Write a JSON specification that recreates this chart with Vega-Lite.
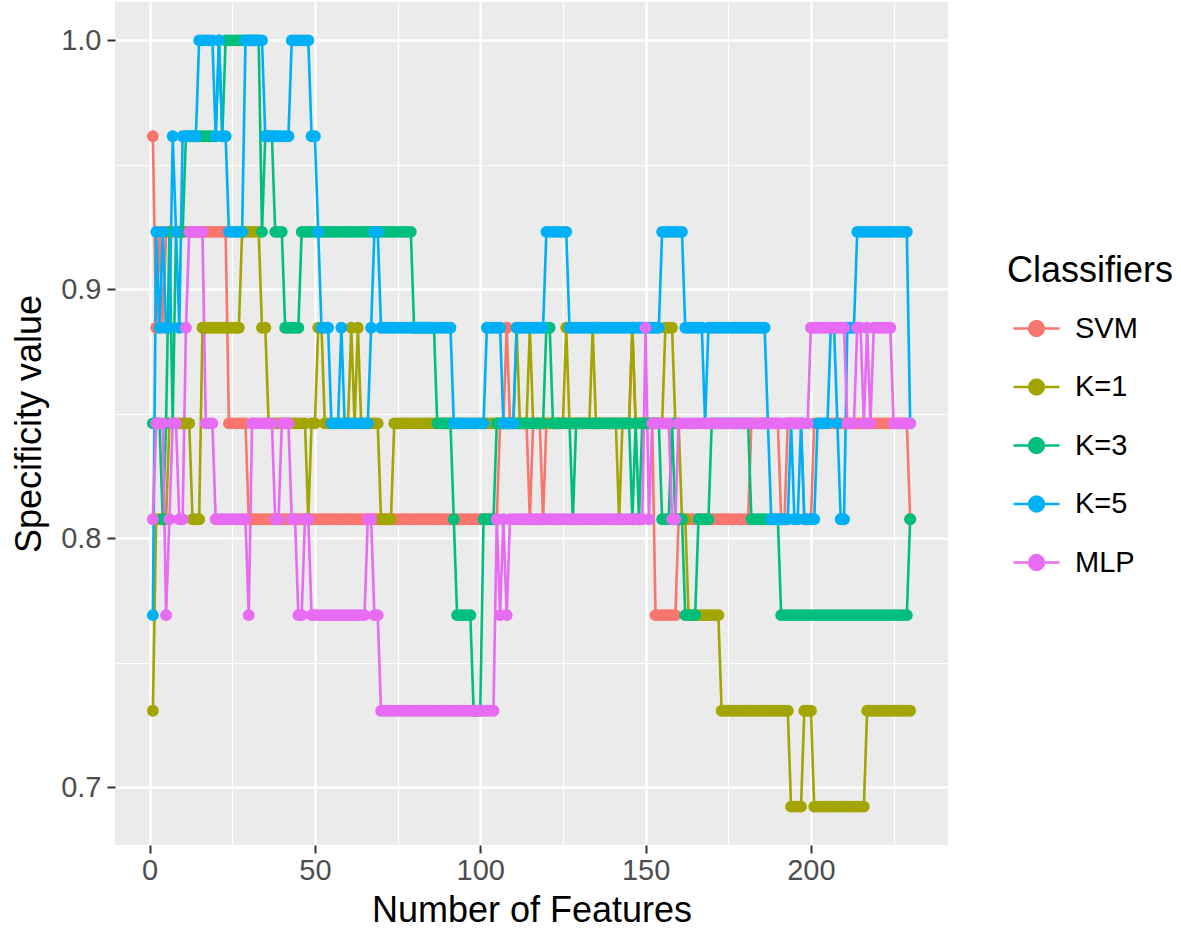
{
"$schema":"https://vega.github.io/schema/vega-lite/v6.json",
"autosize":{"type":"none"},
"width":833,"height":843,
"padding":{"left":115,"top":2,"right":233,"bottom":90},
"background":"white",
"config":{"view":{"fill":"#EBEBEB","stroke":null},"font":"Liberation Sans","range":{"category":["#F8766D","#A3A500","#00BF7D","#00B0F6","#E76BF3"]},
"legend":{"orient":"none","legendX":892,"legendY":252,"padding":0,"titleFontSize":36,"titleFontWeight":"normal","titleColor":"black","titlePadding":14,"labelFontSize":29,"labelColor":"black","labelOffset":14,"symbolOffset":5,"rowPadding":18.5}},
"datasets":{
"svm":[{"x":1,"y":0.9615},{"x":2,"y":0.8846},{"x":3,"y":0.9231},{"x":4,"y":0.8846},{"x":5,"y":0.9231},{"x":6,"y":0.9231},{"x":7,"y":0.9231},{"x":8,"y":0.9231},{"x":9,"y":0.9231},{"x":10,"y":0.9231},{"x":11,"y":0.9231},{"x":12,"y":0.9231},{"x":13,"y":0.9231},{"x":14,"y":0.9231},{"x":15,"y":0.9231},{"x":16,"y":0.9231},{"x":17,"y":0.9231},{"x":18,"y":0.9231},{"x":19,"y":0.9231},{"x":20,"y":0.9231},{"x":21,"y":0.9231},{"x":22,"y":0.9231},{"x":23,"y":0.9231},{"x":24,"y":0.8462},{"x":25,"y":0.8462},{"x":26,"y":0.8462},{"x":27,"y":0.8462},{"x":28,"y":0.8462},{"x":29,"y":0.8462},{"x":30,"y":0.8077},{"x":31,"y":0.8077},{"x":32,"y":0.8077},{"x":33,"y":0.8077},{"x":34,"y":0.8077},{"x":35,"y":0.8077},{"x":36,"y":0.8077},{"x":37,"y":0.8077},{"x":38,"y":0.8077},{"x":39,"y":0.8077},{"x":40,"y":0.8077},{"x":41,"y":0.8077},{"x":42,"y":0.8077},{"x":43,"y":0.8077},{"x":44,"y":0.8077},{"x":45,"y":0.8077},{"x":46,"y":0.8077},{"x":47,"y":0.8077},{"x":48,"y":0.8077},{"x":49,"y":0.8077},{"x":50,"y":0.8077},{"x":51,"y":0.8077},{"x":52,"y":0.8077},{"x":53,"y":0.8077},{"x":54,"y":0.8077},{"x":55,"y":0.8077},{"x":56,"y":0.8077},{"x":57,"y":0.8077},{"x":58,"y":0.8077},{"x":59,"y":0.8077},{"x":60,"y":0.8077},{"x":61,"y":0.8077},{"x":62,"y":0.8077},{"x":63,"y":0.8077},{"x":64,"y":0.8077},{"x":65,"y":0.8077},{"x":66,"y":0.8077},{"x":67,"y":0.8077},{"x":68,"y":0.8077},{"x":69,"y":0.8077},{"x":70,"y":0.8077},{"x":71,"y":0.8077},{"x":72,"y":0.8077},{"x":73,"y":0.8077},{"x":74,"y":0.8077},{"x":75,"y":0.8077},{"x":76,"y":0.8077},{"x":77,"y":0.8077},{"x":78,"y":0.8077},{"x":79,"y":0.8077},{"x":80,"y":0.8077},{"x":81,"y":0.8077},{"x":82,"y":0.8077},{"x":83,"y":0.8077},{"x":84,"y":0.8077},{"x":85,"y":0.8077},{"x":86,"y":0.8077},{"x":87,"y":0.8077},{"x":88,"y":0.8077},{"x":89,"y":0.8077},{"x":90,"y":0.8077},{"x":91,"y":0.8077},{"x":92,"y":0.8077},{"x":93,"y":0.8077},{"x":94,"y":0.8077},{"x":95,"y":0.8077},{"x":96,"y":0.8077},{"x":97,"y":0.8077},{"x":98,"y":0.8077},{"x":99,"y":0.8077},{"x":100,"y":0.8077},{"x":101,"y":0.8077},{"x":102,"y":0.8077},{"x":103,"y":0.8077},{"x":104,"y":0.8077},{"x":105,"y":0.8077},{"x":106,"y":0.8462},{"x":107,"y":0.8462},{"x":108,"y":0.8846},{"x":109,"y":0.8462},{"x":110,"y":0.8462},{"x":111,"y":0.8462},{"x":112,"y":0.8462},{"x":113,"y":0.8462},{"x":114,"y":0.8462},{"x":115,"y":0.8077},{"x":116,"y":0.8462},{"x":117,"y":0.8462},{"x":118,"y":0.8462},{"x":119,"y":0.8077},{"x":120,"y":0.8462},{"x":121,"y":0.8462},{"x":122,"y":0.8462},{"x":123,"y":0.8462},{"x":124,"y":0.8462},{"x":125,"y":0.8462},{"x":126,"y":0.8462},{"x":127,"y":0.8462},{"x":128,"y":0.8462},{"x":129,"y":0.8462},{"x":130,"y":0.8462},{"x":131,"y":0.8462},{"x":132,"y":0.8462},{"x":133,"y":0.8462},{"x":134,"y":0.8462},{"x":135,"y":0.8462},{"x":136,"y":0.8462},{"x":137,"y":0.8462},{"x":138,"y":0.8462},{"x":139,"y":0.8462},{"x":140,"y":0.8462},{"x":141,"y":0.8462},{"x":142,"y":0.8462},{"x":143,"y":0.8462},{"x":144,"y":0.8462},{"x":145,"y":0.8462},{"x":146,"y":0.8846},{"x":147,"y":0.8462},{"x":148,"y":0.8462},{"x":149,"y":0.8462},{"x":150,"y":0.8462},{"x":151,"y":0.8462},{"x":152,"y":0.8462},{"x":153,"y":0.7692},{"x":154,"y":0.7692},{"x":155,"y":0.7692},{"x":156,"y":0.7692},{"x":157,"y":0.7692},{"x":158,"y":0.7692},{"x":159,"y":0.7692},{"x":160,"y":0.8077},{"x":161,"y":0.8077},{"x":162,"y":0.8077},{"x":163,"y":0.8077},{"x":164,"y":0.8077},{"x":165,"y":0.8077},{"x":166,"y":0.8077},{"x":167,"y":0.8077},{"x":168,"y":0.8077},{"x":169,"y":0.8077},{"x":170,"y":0.8077},{"x":171,"y":0.8077},{"x":172,"y":0.8077},{"x":173,"y":0.8077},{"x":174,"y":0.8077},{"x":175,"y":0.8077},{"x":176,"y":0.8077},{"x":177,"y":0.8077},{"x":178,"y":0.8077},{"x":179,"y":0.8077},{"x":180,"y":0.8077},{"x":181,"y":0.8077},{"x":182,"y":0.8462},{"x":183,"y":0.8462},{"x":184,"y":0.8462},{"x":185,"y":0.8462},{"x":186,"y":0.8462},{"x":187,"y":0.8462},{"x":188,"y":0.8462},{"x":189,"y":0.8462},{"x":190,"y":0.8462},{"x":191,"y":0.8077},{"x":192,"y":0.8077},{"x":193,"y":0.8462},{"x":194,"y":0.8462},{"x":195,"y":0.8462},{"x":196,"y":0.8462},{"x":197,"y":0.8462},{"x":198,"y":0.8077},{"x":199,"y":0.8077},{"x":200,"y":0.8077},{"x":201,"y":0.8462},{"x":202,"y":0.8462},{"x":203,"y":0.8462},{"x":204,"y":0.8462},{"x":205,"y":0.8462},{"x":206,"y":0.8462},{"x":207,"y":0.8462},{"x":208,"y":0.8462},{"x":209,"y":0.8462},{"x":210,"y":0.8462},{"x":211,"y":0.8462},{"x":212,"y":0.8462},{"x":213,"y":0.8462},{"x":214,"y":0.8462},{"x":215,"y":0.8462},{"x":216,"y":0.8462},{"x":217,"y":0.8462},{"x":218,"y":0.8462},{"x":219,"y":0.8462},{"x":220,"y":0.8462},{"x":221,"y":0.8462},{"x":222,"y":0.8462},{"x":223,"y":0.8462},{"x":224,"y":0.8462},{"x":225,"y":0.8462},{"x":226,"y":0.8462},{"x":227,"y":0.8462},{"x":228,"y":0.8462},{"x":229,"y":0.8462},{"x":230,"y":0.8077}],
"k1":[{"x":1,"y":0.7308},{"x":2,"y":0.8077},{"x":3,"y":0.8077},{"x":4,"y":0.8077},{"x":5,"y":0.8077},{"x":6,"y":0.8462},{"x":7,"y":0.8462},{"x":8,"y":0.8462},{"x":9,"y":0.8462},{"x":10,"y":0.8462},{"x":11,"y":0.8462},{"x":12,"y":0.8462},{"x":13,"y":0.8077},{"x":14,"y":0.8077},{"x":15,"y":0.8077},{"x":16,"y":0.8846},{"x":17,"y":0.8846},{"x":18,"y":0.8846},{"x":19,"y":0.8846},{"x":20,"y":0.8846},{"x":21,"y":0.8846},{"x":22,"y":0.8846},{"x":23,"y":0.8846},{"x":24,"y":0.8846},{"x":25,"y":0.8846},{"x":26,"y":0.8846},{"x":27,"y":0.8846},{"x":28,"y":0.9231},{"x":29,"y":0.9231},{"x":30,"y":0.9231},{"x":31,"y":0.9231},{"x":32,"y":0.9231},{"x":33,"y":0.9231},{"x":34,"y":0.8846},{"x":35,"y":0.8846},{"x":36,"y":0.8462},{"x":37,"y":0.8462},{"x":38,"y":0.8462},{"x":39,"y":0.8462},{"x":40,"y":0.8462},{"x":41,"y":0.8462},{"x":42,"y":0.8462},{"x":43,"y":0.8462},{"x":44,"y":0.8462},{"x":45,"y":0.8462},{"x":46,"y":0.8462},{"x":47,"y":0.8462},{"x":48,"y":0.8077},{"x":49,"y":0.8462},{"x":50,"y":0.8462},{"x":51,"y":0.8846},{"x":52,"y":0.8846},{"x":53,"y":0.8462},{"x":54,"y":0.8462},{"x":55,"y":0.8462},{"x":56,"y":0.8462},{"x":57,"y":0.8462},{"x":58,"y":0.8462},{"x":59,"y":0.8462},{"x":60,"y":0.8462},{"x":61,"y":0.8846},{"x":62,"y":0.8462},{"x":63,"y":0.8846},{"x":64,"y":0.8462},{"x":65,"y":0.8462},{"x":66,"y":0.8462},{"x":67,"y":0.8462},{"x":68,"y":0.8462},{"x":69,"y":0.8462},{"x":70,"y":0.8077},{"x":71,"y":0.8077},{"x":72,"y":0.8077},{"x":73,"y":0.8077},{"x":74,"y":0.8462},{"x":75,"y":0.8462},{"x":76,"y":0.8462},{"x":77,"y":0.8462},{"x":78,"y":0.8462},{"x":79,"y":0.8462},{"x":80,"y":0.8462},{"x":81,"y":0.8462},{"x":82,"y":0.8462},{"x":83,"y":0.8462},{"x":84,"y":0.8462},{"x":85,"y":0.8462},{"x":86,"y":0.8462},{"x":87,"y":0.8462},{"x":88,"y":0.8462},{"x":89,"y":0.8462},{"x":90,"y":0.8462},{"x":91,"y":0.8462},{"x":92,"y":0.8462},{"x":93,"y":0.8462},{"x":94,"y":0.8462},{"x":95,"y":0.8462},{"x":96,"y":0.8462},{"x":97,"y":0.8462},{"x":98,"y":0.8462},{"x":99,"y":0.8462},{"x":100,"y":0.8462},{"x":101,"y":0.8462},{"x":102,"y":0.8462},{"x":103,"y":0.8462},{"x":104,"y":0.8462},{"x":105,"y":0.8462},{"x":106,"y":0.8462},{"x":107,"y":0.8462},{"x":108,"y":0.8462},{"x":109,"y":0.8462},{"x":110,"y":0.8462},{"x":111,"y":0.8846},{"x":112,"y":0.8462},{"x":113,"y":0.8462},{"x":114,"y":0.8462},{"x":115,"y":0.8846},{"x":116,"y":0.8462},{"x":117,"y":0.8462},{"x":118,"y":0.8462},{"x":119,"y":0.8462},{"x":120,"y":0.8462},{"x":121,"y":0.8462},{"x":122,"y":0.8462},{"x":123,"y":0.8462},{"x":124,"y":0.8462},{"x":125,"y":0.8462},{"x":126,"y":0.8846},{"x":127,"y":0.8462},{"x":128,"y":0.8462},{"x":129,"y":0.8462},{"x":130,"y":0.8462},{"x":131,"y":0.8462},{"x":132,"y":0.8462},{"x":133,"y":0.8462},{"x":134,"y":0.8846},{"x":135,"y":0.8462},{"x":136,"y":0.8462},{"x":137,"y":0.8462},{"x":138,"y":0.8462},{"x":139,"y":0.8462},{"x":140,"y":0.8462},{"x":141,"y":0.8462},{"x":142,"y":0.8077},{"x":143,"y":0.8462},{"x":144,"y":0.8462},{"x":145,"y":0.8462},{"x":146,"y":0.8846},{"x":147,"y":0.8462},{"x":148,"y":0.8462},{"x":149,"y":0.8462},{"x":150,"y":0.8462},{"x":151,"y":0.8462},{"x":152,"y":0.8462},{"x":153,"y":0.8462},{"x":154,"y":0.8462},{"x":155,"y":0.8462},{"x":156,"y":0.8846},{"x":157,"y":0.8846},{"x":158,"y":0.8846},{"x":159,"y":0.8462},{"x":160,"y":0.8462},{"x":161,"y":0.8077},{"x":162,"y":0.8077},{"x":163,"y":0.7692},{"x":164,"y":0.7692},{"x":165,"y":0.7692},{"x":166,"y":0.7692},{"x":167,"y":0.7692},{"x":168,"y":0.7692},{"x":169,"y":0.7692},{"x":170,"y":0.7692},{"x":171,"y":0.7692},{"x":172,"y":0.7692},{"x":173,"y":0.7308},{"x":174,"y":0.7308},{"x":175,"y":0.7308},{"x":176,"y":0.7308},{"x":177,"y":0.7308},{"x":178,"y":0.7308},{"x":179,"y":0.7308},{"x":180,"y":0.7308},{"x":181,"y":0.7308},{"x":182,"y":0.7308},{"x":183,"y":0.7308},{"x":184,"y":0.7308},{"x":185,"y":0.7308},{"x":186,"y":0.7308},{"x":187,"y":0.7308},{"x":188,"y":0.7308},{"x":189,"y":0.7308},{"x":190,"y":0.7308},{"x":191,"y":0.7308},{"x":192,"y":0.7308},{"x":193,"y":0.7308},{"x":194,"y":0.6923},{"x":195,"y":0.6923},{"x":196,"y":0.6923},{"x":197,"y":0.6923},{"x":198,"y":0.7308},{"x":199,"y":0.7308},{"x":200,"y":0.7308},{"x":201,"y":0.6923},{"x":202,"y":0.6923},{"x":203,"y":0.6923},{"x":204,"y":0.6923},{"x":205,"y":0.6923},{"x":206,"y":0.6923},{"x":207,"y":0.6923},{"x":208,"y":0.6923},{"x":209,"y":0.6923},{"x":210,"y":0.6923},{"x":211,"y":0.6923},{"x":212,"y":0.6923},{"x":213,"y":0.6923},{"x":214,"y":0.6923},{"x":215,"y":0.6923},{"x":216,"y":0.6923},{"x":217,"y":0.7308},{"x":218,"y":0.7308},{"x":219,"y":0.7308},{"x":220,"y":0.7308},{"x":221,"y":0.7308},{"x":222,"y":0.7308},{"x":223,"y":0.7308},{"x":224,"y":0.7308},{"x":225,"y":0.7308},{"x":226,"y":0.7308},{"x":227,"y":0.7308},{"x":228,"y":0.7308},{"x":229,"y":0.7308},{"x":230,"y":0.7308}],
"k3":[{"x":1,"y":0.8462},{"x":2,"y":0.8462},{"x":3,"y":0.8462},{"x":4,"y":0.8077},{"x":5,"y":0.8462},{"x":6,"y":0.9231},{"x":7,"y":0.8462},{"x":8,"y":0.9231},{"x":9,"y":0.9231},{"x":10,"y":0.9231},{"x":11,"y":0.9615},{"x":12,"y":0.9615},{"x":13,"y":0.9615},{"x":14,"y":0.9615},{"x":15,"y":0.9615},{"x":16,"y":0.9615},{"x":17,"y":0.9615},{"x":18,"y":0.9615},{"x":19,"y":0.9615},{"x":20,"y":0.9615},{"x":21,"y":1},{"x":22,"y":0.9615},{"x":23,"y":1},{"x":24,"y":1},{"x":25,"y":1},{"x":26,"y":1},{"x":27,"y":1},{"x":28,"y":1},{"x":29,"y":1},{"x":30,"y":1},{"x":31,"y":1},{"x":32,"y":1},{"x":33,"y":1},{"x":34,"y":0.9231},{"x":35,"y":0.9615},{"x":36,"y":0.9615},{"x":37,"y":0.9615},{"x":38,"y":0.9231},{"x":39,"y":0.9231},{"x":40,"y":0.9231},{"x":41,"y":0.8846},{"x":42,"y":0.8846},{"x":43,"y":0.8846},{"x":44,"y":0.8846},{"x":45,"y":0.8846},{"x":46,"y":0.9231},{"x":47,"y":0.9231},{"x":48,"y":0.9231},{"x":49,"y":0.9231},{"x":50,"y":0.9231},{"x":51,"y":0.9231},{"x":52,"y":0.9231},{"x":53,"y":0.9231},{"x":54,"y":0.9231},{"x":55,"y":0.9231},{"x":56,"y":0.9231},{"x":57,"y":0.9231},{"x":58,"y":0.9231},{"x":59,"y":0.9231},{"x":60,"y":0.9231},{"x":61,"y":0.9231},{"x":62,"y":0.9231},{"x":63,"y":0.9231},{"x":64,"y":0.9231},{"x":65,"y":0.9231},{"x":66,"y":0.9231},{"x":67,"y":0.9231},{"x":68,"y":0.9231},{"x":69,"y":0.9231},{"x":70,"y":0.9231},{"x":71,"y":0.9231},{"x":72,"y":0.9231},{"x":73,"y":0.9231},{"x":74,"y":0.9231},{"x":75,"y":0.9231},{"x":76,"y":0.9231},{"x":77,"y":0.9231},{"x":78,"y":0.9231},{"x":79,"y":0.9231},{"x":80,"y":0.8846},{"x":81,"y":0.8846},{"x":82,"y":0.8846},{"x":83,"y":0.8846},{"x":84,"y":0.8846},{"x":85,"y":0.8846},{"x":86,"y":0.8846},{"x":87,"y":0.8462},{"x":88,"y":0.8462},{"x":89,"y":0.8462},{"x":90,"y":0.8462},{"x":91,"y":0.8462},{"x":92,"y":0.8077},{"x":93,"y":0.7692},{"x":94,"y":0.7692},{"x":95,"y":0.7692},{"x":96,"y":0.7692},{"x":97,"y":0.7692},{"x":98,"y":0.7308},{"x":99,"y":0.7308},{"x":100,"y":0.7308},{"x":101,"y":0.8077},{"x":102,"y":0.8077},{"x":103,"y":0.8077},{"x":104,"y":0.8077},{"x":105,"y":0.8462},{"x":106,"y":0.8462},{"x":107,"y":0.8462},{"x":108,"y":0.8462},{"x":109,"y":0.8462},{"x":110,"y":0.8462},{"x":111,"y":0.8462},{"x":112,"y":0.8462},{"x":113,"y":0.8462},{"x":114,"y":0.8462},{"x":115,"y":0.8462},{"x":116,"y":0.8462},{"x":117,"y":0.8462},{"x":118,"y":0.8462},{"x":119,"y":0.8462},{"x":120,"y":0.8846},{"x":121,"y":0.8846},{"x":122,"y":0.8462},{"x":123,"y":0.8462},{"x":124,"y":0.8462},{"x":125,"y":0.8462},{"x":126,"y":0.8462},{"x":127,"y":0.8462},{"x":128,"y":0.8077},{"x":129,"y":0.8462},{"x":130,"y":0.8462},{"x":131,"y":0.8462},{"x":132,"y":0.8462},{"x":133,"y":0.8462},{"x":134,"y":0.8462},{"x":135,"y":0.8462},{"x":136,"y":0.8462},{"x":137,"y":0.8462},{"x":138,"y":0.8462},{"x":139,"y":0.8462},{"x":140,"y":0.8462},{"x":141,"y":0.8462},{"x":142,"y":0.8462},{"x":143,"y":0.8462},{"x":144,"y":0.8462},{"x":145,"y":0.8462},{"x":146,"y":0.8077},{"x":147,"y":0.8462},{"x":148,"y":0.8077},{"x":149,"y":0.8462},{"x":150,"y":0.8462},{"x":151,"y":0.8462},{"x":152,"y":0.8462},{"x":153,"y":0.8462},{"x":154,"y":0.8462},{"x":155,"y":0.8077},{"x":156,"y":0.8077},{"x":157,"y":0.8077},{"x":158,"y":0.8462},{"x":159,"y":0.8077},{"x":160,"y":0.8077},{"x":161,"y":0.8077},{"x":162,"y":0.7692},{"x":163,"y":0.7692},{"x":164,"y":0.7692},{"x":165,"y":0.7692},{"x":166,"y":0.8077},{"x":167,"y":0.8077},{"x":168,"y":0.8077},{"x":169,"y":0.8077},{"x":170,"y":0.8462},{"x":171,"y":0.8462},{"x":172,"y":0.8462},{"x":173,"y":0.8462},{"x":174,"y":0.8462},{"x":175,"y":0.8462},{"x":176,"y":0.8462},{"x":177,"y":0.8462},{"x":178,"y":0.8462},{"x":179,"y":0.8462},{"x":180,"y":0.8462},{"x":181,"y":0.8462},{"x":182,"y":0.8077},{"x":183,"y":0.8077},{"x":184,"y":0.8077},{"x":185,"y":0.8077},{"x":186,"y":0.8077},{"x":187,"y":0.8077},{"x":188,"y":0.8077},{"x":189,"y":0.8077},{"x":190,"y":0.8077},{"x":191,"y":0.7692},{"x":192,"y":0.7692},{"x":193,"y":0.7692},{"x":194,"y":0.7692},{"x":195,"y":0.7692},{"x":196,"y":0.7692},{"x":197,"y":0.7692},{"x":198,"y":0.7692},{"x":199,"y":0.7692},{"x":200,"y":0.7692},{"x":201,"y":0.7692},{"x":202,"y":0.7692},{"x":203,"y":0.7692},{"x":204,"y":0.7692},{"x":205,"y":0.7692},{"x":206,"y":0.7692},{"x":207,"y":0.7692},{"x":208,"y":0.7692},{"x":209,"y":0.7692},{"x":210,"y":0.7692},{"x":211,"y":0.7692},{"x":212,"y":0.7692},{"x":213,"y":0.7692},{"x":214,"y":0.7692},{"x":215,"y":0.7692},{"x":216,"y":0.7692},{"x":217,"y":0.7692},{"x":218,"y":0.7692},{"x":219,"y":0.7692},{"x":220,"y":0.7692},{"x":221,"y":0.7692},{"x":222,"y":0.7692},{"x":223,"y":0.7692},{"x":224,"y":0.7692},{"x":225,"y":0.7692},{"x":226,"y":0.7692},{"x":227,"y":0.7692},{"x":228,"y":0.7692},{"x":229,"y":0.7692},{"x":230,"y":0.8077}],
"k5":[{"x":1,"y":0.7692},{"x":2,"y":0.9231},{"x":3,"y":0.8846},{"x":4,"y":0.9231},{"x":5,"y":0.8846},{"x":6,"y":0.8846},{"x":7,"y":0.9615},{"x":8,"y":0.9231},{"x":9,"y":0.8846},{"x":10,"y":0.9615},{"x":11,"y":0.9615},{"x":12,"y":0.9615},{"x":13,"y":0.9615},{"x":14,"y":0.9615},{"x":15,"y":1},{"x":16,"y":1},{"x":17,"y":1},{"x":18,"y":1},{"x":19,"y":1},{"x":20,"y":0.9615},{"x":21,"y":1},{"x":22,"y":0.9615},{"x":23,"y":0.9615},{"x":24,"y":0.9231},{"x":25,"y":0.9231},{"x":26,"y":0.9231},{"x":27,"y":0.9231},{"x":28,"y":0.9231},{"x":29,"y":1},{"x":30,"y":1},{"x":31,"y":1},{"x":32,"y":1},{"x":33,"y":1},{"x":34,"y":1},{"x":35,"y":0.9615},{"x":36,"y":0.9615},{"x":37,"y":0.9615},{"x":38,"y":0.9615},{"x":39,"y":0.9615},{"x":40,"y":0.9615},{"x":41,"y":0.9615},{"x":42,"y":0.9615},{"x":43,"y":1},{"x":44,"y":1},{"x":45,"y":1},{"x":46,"y":1},{"x":47,"y":1},{"x":48,"y":1},{"x":49,"y":0.9615},{"x":50,"y":0.9615},{"x":51,"y":0.9231},{"x":52,"y":0.8846},{"x":53,"y":0.8846},{"x":54,"y":0.8846},{"x":55,"y":0.8462},{"x":56,"y":0.8462},{"x":57,"y":0.8462},{"x":58,"y":0.8846},{"x":59,"y":0.8462},{"x":60,"y":0.8462},{"x":61,"y":0.8462},{"x":62,"y":0.8462},{"x":63,"y":0.8462},{"x":64,"y":0.8462},{"x":65,"y":0.8462},{"x":66,"y":0.8462},{"x":67,"y":0.8846},{"x":68,"y":0.9231},{"x":69,"y":0.9231},{"x":70,"y":0.8846},{"x":71,"y":0.8846},{"x":72,"y":0.8846},{"x":73,"y":0.8846},{"x":74,"y":0.8846},{"x":75,"y":0.8846},{"x":76,"y":0.8846},{"x":77,"y":0.8846},{"x":78,"y":0.8846},{"x":79,"y":0.8846},{"x":80,"y":0.8846},{"x":81,"y":0.8846},{"x":82,"y":0.8846},{"x":83,"y":0.8846},{"x":84,"y":0.8846},{"x":85,"y":0.8846},{"x":86,"y":0.8846},{"x":87,"y":0.8846},{"x":88,"y":0.8846},{"x":89,"y":0.8846},{"x":90,"y":0.8846},{"x":91,"y":0.8846},{"x":92,"y":0.8462},{"x":93,"y":0.8462},{"x":94,"y":0.8462},{"x":95,"y":0.8462},{"x":96,"y":0.8462},{"x":97,"y":0.8462},{"x":98,"y":0.8462},{"x":99,"y":0.8462},{"x":100,"y":0.8462},{"x":101,"y":0.8462},{"x":102,"y":0.8846},{"x":103,"y":0.8846},{"x":104,"y":0.8846},{"x":105,"y":0.8846},{"x":106,"y":0.8846},{"x":107,"y":0.8462},{"x":108,"y":0.8462},{"x":109,"y":0.8462},{"x":110,"y":0.8462},{"x":111,"y":0.8846},{"x":112,"y":0.8846},{"x":113,"y":0.8846},{"x":114,"y":0.8846},{"x":115,"y":0.8846},{"x":116,"y":0.8846},{"x":117,"y":0.8846},{"x":118,"y":0.8846},{"x":119,"y":0.8846},{"x":120,"y":0.9231},{"x":121,"y":0.9231},{"x":122,"y":0.9231},{"x":123,"y":0.9231},{"x":124,"y":0.9231},{"x":125,"y":0.9231},{"x":126,"y":0.9231},{"x":127,"y":0.8846},{"x":128,"y":0.8846},{"x":129,"y":0.8846},{"x":130,"y":0.8846},{"x":131,"y":0.8846},{"x":132,"y":0.8846},{"x":133,"y":0.8846},{"x":134,"y":0.8846},{"x":135,"y":0.8846},{"x":136,"y":0.8846},{"x":137,"y":0.8846},{"x":138,"y":0.8846},{"x":139,"y":0.8846},{"x":140,"y":0.8846},{"x":141,"y":0.8846},{"x":142,"y":0.8846},{"x":143,"y":0.8846},{"x":144,"y":0.8846},{"x":145,"y":0.8846},{"x":146,"y":0.8846},{"x":147,"y":0.8846},{"x":148,"y":0.8846},{"x":149,"y":0.8846},{"x":150,"y":0.8846},{"x":151,"y":0.8846},{"x":152,"y":0.8846},{"x":153,"y":0.8846},{"x":154,"y":0.8846},{"x":155,"y":0.9231},{"x":156,"y":0.9231},{"x":157,"y":0.9231},{"x":158,"y":0.9231},{"x":159,"y":0.9231},{"x":160,"y":0.9231},{"x":161,"y":0.9231},{"x":162,"y":0.8846},{"x":163,"y":0.8846},{"x":164,"y":0.8846},{"x":165,"y":0.8846},{"x":166,"y":0.8846},{"x":167,"y":0.8846},{"x":168,"y":0.8462},{"x":169,"y":0.8846},{"x":170,"y":0.8846},{"x":171,"y":0.8846},{"x":172,"y":0.8846},{"x":173,"y":0.8846},{"x":174,"y":0.8846},{"x":175,"y":0.8846},{"x":176,"y":0.8846},{"x":177,"y":0.8846},{"x":178,"y":0.8846},{"x":179,"y":0.8846},{"x":180,"y":0.8846},{"x":181,"y":0.8846},{"x":182,"y":0.8846},{"x":183,"y":0.8846},{"x":184,"y":0.8846},{"x":185,"y":0.8846},{"x":186,"y":0.8846},{"x":187,"y":0.8462},{"x":188,"y":0.8077},{"x":189,"y":0.8077},{"x":190,"y":0.8077},{"x":191,"y":0.8077},{"x":192,"y":0.8077},{"x":193,"y":0.8077},{"x":194,"y":0.8462},{"x":195,"y":0.8077},{"x":196,"y":0.8077},{"x":197,"y":0.8462},{"x":198,"y":0.8077},{"x":199,"y":0.8077},{"x":200,"y":0.8077},{"x":201,"y":0.8077},{"x":202,"y":0.8462},{"x":203,"y":0.8462},{"x":204,"y":0.8462},{"x":205,"y":0.8462},{"x":206,"y":0.8846},{"x":207,"y":0.8846},{"x":208,"y":0.8462},{"x":209,"y":0.8077},{"x":210,"y":0.8077},{"x":211,"y":0.8846},{"x":212,"y":0.8846},{"x":213,"y":0.8846},{"x":214,"y":0.9231},{"x":215,"y":0.9231},{"x":216,"y":0.9231},{"x":217,"y":0.9231},{"x":218,"y":0.9231},{"x":219,"y":0.9231},{"x":220,"y":0.9231},{"x":221,"y":0.9231},{"x":222,"y":0.9231},{"x":223,"y":0.9231},{"x":224,"y":0.9231},{"x":225,"y":0.9231},{"x":226,"y":0.9231},{"x":227,"y":0.9231},{"x":228,"y":0.9231},{"x":229,"y":0.9231},{"x":230,"y":0.8462}],
"mlp":[{"x":1,"y":0.8077},{"x":2,"y":0.8462},{"x":3,"y":0.8462},{"x":4,"y":0.8462},{"x":5,"y":0.7692},{"x":6,"y":0.8077},{"x":7,"y":0.8462},{"x":8,"y":0.8462},{"x":9,"y":0.8077},{"x":10,"y":0.8077},{"x":11,"y":0.8846},{"x":12,"y":0.9231},{"x":13,"y":0.9231},{"x":14,"y":0.9231},{"x":15,"y":0.9231},{"x":16,"y":0.9231},{"x":17,"y":0.8462},{"x":18,"y":0.8462},{"x":19,"y":0.8462},{"x":20,"y":0.8077},{"x":21,"y":0.8077},{"x":22,"y":0.8077},{"x":23,"y":0.8077},{"x":24,"y":0.8077},{"x":25,"y":0.8077},{"x":26,"y":0.8077},{"x":27,"y":0.8077},{"x":28,"y":0.8077},{"x":29,"y":0.8077},{"x":30,"y":0.7692},{"x":31,"y":0.8462},{"x":32,"y":0.8462},{"x":33,"y":0.8462},{"x":34,"y":0.8462},{"x":35,"y":0.8462},{"x":36,"y":0.8462},{"x":37,"y":0.8462},{"x":38,"y":0.8077},{"x":39,"y":0.8077},{"x":40,"y":0.8462},{"x":41,"y":0.8462},{"x":42,"y":0.8462},{"x":43,"y":0.8077},{"x":44,"y":0.8077},{"x":45,"y":0.7692},{"x":46,"y":0.7692},{"x":47,"y":0.8077},{"x":48,"y":0.8077},{"x":49,"y":0.7692},{"x":50,"y":0.7692},{"x":51,"y":0.7692},{"x":52,"y":0.7692},{"x":53,"y":0.7692},{"x":54,"y":0.7692},{"x":55,"y":0.7692},{"x":56,"y":0.7692},{"x":57,"y":0.7692},{"x":58,"y":0.7692},{"x":59,"y":0.7692},{"x":60,"y":0.7692},{"x":61,"y":0.7692},{"x":62,"y":0.7692},{"x":63,"y":0.7692},{"x":64,"y":0.7692},{"x":65,"y":0.7692},{"x":66,"y":0.8077},{"x":67,"y":0.8077},{"x":68,"y":0.7692},{"x":69,"y":0.7692},{"x":70,"y":0.7308},{"x":71,"y":0.7308},{"x":72,"y":0.7308},{"x":73,"y":0.7308},{"x":74,"y":0.7308},{"x":75,"y":0.7308},{"x":76,"y":0.7308},{"x":77,"y":0.7308},{"x":78,"y":0.7308},{"x":79,"y":0.7308},{"x":80,"y":0.7308},{"x":81,"y":0.7308},{"x":82,"y":0.7308},{"x":83,"y":0.7308},{"x":84,"y":0.7308},{"x":85,"y":0.7308},{"x":86,"y":0.7308},{"x":87,"y":0.7308},{"x":88,"y":0.7308},{"x":89,"y":0.7308},{"x":90,"y":0.7308},{"x":91,"y":0.7308},{"x":92,"y":0.7308},{"x":93,"y":0.7308},{"x":94,"y":0.7308},{"x":95,"y":0.7308},{"x":96,"y":0.7308},{"x":97,"y":0.7308},{"x":98,"y":0.7308},{"x":99,"y":0.7308},{"x":100,"y":0.7308},{"x":101,"y":0.7308},{"x":102,"y":0.7308},{"x":103,"y":0.7308},{"x":104,"y":0.7308},{"x":105,"y":0.8077},{"x":106,"y":0.7692},{"x":107,"y":0.8077},{"x":108,"y":0.7692},{"x":109,"y":0.8077},{"x":110,"y":0.8077},{"x":111,"y":0.8077},{"x":112,"y":0.8077},{"x":113,"y":0.8077},{"x":114,"y":0.8077},{"x":115,"y":0.8077},{"x":116,"y":0.8077},{"x":117,"y":0.8077},{"x":118,"y":0.8077},{"x":119,"y":0.8077},{"x":120,"y":0.8077},{"x":121,"y":0.8077},{"x":122,"y":0.8077},{"x":123,"y":0.8077},{"x":124,"y":0.8077},{"x":125,"y":0.8077},{"x":126,"y":0.8077},{"x":127,"y":0.8077},{"x":128,"y":0.8077},{"x":129,"y":0.8077},{"x":130,"y":0.8077},{"x":131,"y":0.8077},{"x":132,"y":0.8077},{"x":133,"y":0.8077},{"x":134,"y":0.8077},{"x":135,"y":0.8077},{"x":136,"y":0.8077},{"x":137,"y":0.8077},{"x":138,"y":0.8077},{"x":139,"y":0.8077},{"x":140,"y":0.8077},{"x":141,"y":0.8077},{"x":142,"y":0.8077},{"x":143,"y":0.8077},{"x":144,"y":0.8077},{"x":145,"y":0.8077},{"x":146,"y":0.8077},{"x":147,"y":0.8077},{"x":148,"y":0.8077},{"x":149,"y":0.8077},{"x":150,"y":0.8846},{"x":151,"y":0.8077},{"x":152,"y":0.8462},{"x":153,"y":0.8462},{"x":154,"y":0.8462},{"x":155,"y":0.8462},{"x":156,"y":0.8462},{"x":157,"y":0.8462},{"x":158,"y":0.8077},{"x":159,"y":0.8077},{"x":160,"y":0.8462},{"x":161,"y":0.8462},{"x":162,"y":0.8462},{"x":163,"y":0.8462},{"x":164,"y":0.8462},{"x":165,"y":0.8462},{"x":166,"y":0.8462},{"x":167,"y":0.8462},{"x":168,"y":0.8462},{"x":169,"y":0.8462},{"x":170,"y":0.8462},{"x":171,"y":0.8462},{"x":172,"y":0.8462},{"x":173,"y":0.8462},{"x":174,"y":0.8462},{"x":175,"y":0.8462},{"x":176,"y":0.8462},{"x":177,"y":0.8462},{"x":178,"y":0.8462},{"x":179,"y":0.8462},{"x":180,"y":0.8462},{"x":181,"y":0.8462},{"x":182,"y":0.8462},{"x":183,"y":0.8462},{"x":184,"y":0.8462},{"x":185,"y":0.8462},{"x":186,"y":0.8462},{"x":187,"y":0.8462},{"x":188,"y":0.8462},{"x":189,"y":0.8462},{"x":190,"y":0.8462},{"x":191,"y":0.8462},{"x":192,"y":0.8462},{"x":193,"y":0.8462},{"x":194,"y":0.8462},{"x":195,"y":0.8462},{"x":196,"y":0.8462},{"x":197,"y":0.8462},{"x":198,"y":0.8462},{"x":199,"y":0.8462},{"x":200,"y":0.8846},{"x":201,"y":0.8846},{"x":202,"y":0.8846},{"x":203,"y":0.8846},{"x":204,"y":0.8846},{"x":205,"y":0.8846},{"x":206,"y":0.8846},{"x":207,"y":0.8846},{"x":208,"y":0.8846},{"x":209,"y":0.8846},{"x":210,"y":0.8846},{"x":211,"y":0.8462},{"x":212,"y":0.8462},{"x":213,"y":0.8462},{"x":214,"y":0.8846},{"x":215,"y":0.8846},{"x":216,"y":0.8462},{"x":217,"y":0.8846},{"x":218,"y":0.8462},{"x":219,"y":0.8846},{"x":220,"y":0.8846},{"x":221,"y":0.8846},{"x":222,"y":0.8846},{"x":223,"y":0.8846},{"x":224,"y":0.8846},{"x":225,"y":0.8462},{"x":226,"y":0.8462},{"x":227,"y":0.8462},{"x":228,"y":0.8462},{"x":229,"y":0.8462},{"x":230,"y":0.8462}]
},
"encoding":{
"x":{"field":"x","type":"quantitative","title":"Number of Features","scale":{"domain":[-10.45,241.45],"nice":false,"zero":false},
"axis":{"values":[0,25,50,75,100,125,150,175,200,225],"labelExpr":"datum.value % 50 === 0 ? datum.label : ''","domain":false,"gridColor":"white","gridWidth":{"condition":{"test":"datum.value % 50 !== 0","value":1.2},"value":2.4},"gridOpacity":1,"tickColor":"#333333","tickSize":8,"tickWidth":2,"tickOpacity":{"condition":{"test":"datum.value % 50 !== 0","value":0},"value":1},"labelFontSize":29,"labelColor":"#4D4D4D","labelPadding":3,"titleFontSize":36,"titleFontWeight":"normal","titleColor":"black","titlePadding":8}},
"y":{"field":"y","type":"quantitative","title":"Specificity value","scale":{"domain":[0.6769,1.0154],"nice":false,"zero":false},
"axis":{"values":[0.7,0.75,0.8,0.85,0.9,0.95,1.0],"labelExpr":"abs(datum.value*10 - round(datum.value*10)) < 0.001 ? format(datum.value, '.1f') : ''","domain":false,"gridColor":"white","gridWidth":{"condition":{"test":"abs(datum.value*10 - round(datum.value*10)) > 0.001","value":1.2},"value":2.4},"gridOpacity":1,"tickColor":"#333333","tickSize":8,"tickWidth":2,"tickOpacity":{"condition":{"test":"abs(datum.value*10 - round(datum.value*10)) > 0.001","value":0},"value":1},"labelFontSize":29,"labelColor":"#4D4D4D","labelPadding":6,"titleFontSize":36,"titleFontWeight":"normal","titleColor":"black","titlePadding":12}}
},
"layer":[
{"data":{"name":"svm"},"mark":{"type":"line","strokeWidth":2.6},"encoding":{"color":{"datum":"SVM","type":"nominal","title":"Classifiers","scale":{"domain":["SVM","K=1","K=3","K=5","MLP"]},"legend":{"symbolType":"M-1,0H1M-0.32,0A0.32,0.32,0,1,1,0.32,0A0.32,0.32,0,1,1,-0.32,0Z","symbolSize":2116,"symbolStrokeWidth":2.6,"rowPadding":18.5,"titlePadding":14,"encode":{"symbols":{"update":{"fill":{"scale":"color","field":"value"},"fillOpacity":{"value":1},"stroke":{"scale":"color","field":"value"},"opacity":{"value":1}}}}}}}},
{"data":{"name":"k1"},"mark":{"type":"line","strokeWidth":2.6},"encoding":{"color":{"datum":"K=1","type":"nominal","title":"Classifiers","scale":{"domain":["SVM","K=1","K=3","K=5","MLP"]}}}},
{"data":{"name":"k3"},"mark":{"type":"line","strokeWidth":2.6},"encoding":{"color":{"datum":"K=3","type":"nominal","title":"Classifiers","scale":{"domain":["SVM","K=1","K=3","K=5","MLP"]}}}},
{"data":{"name":"k5"},"mark":{"type":"line","strokeWidth":2.6},"encoding":{"color":{"datum":"K=5","type":"nominal","title":"Classifiers","scale":{"domain":["SVM","K=1","K=3","K=5","MLP"]}}}},
{"data":{"name":"mlp"},"mark":{"type":"line","strokeWidth":2.6},"encoding":{"color":{"datum":"MLP","type":"nominal","title":"Classifiers","scale":{"domain":["SVM","K=1","K=3","K=5","MLP"]}}}},
{"data":{"name":"svm"},"mark":{"type":"point","filled":true,"size":140,"opacity":1},"encoding":{"color":{"datum":"SVM","type":"nominal","title":"Classifiers","scale":{"domain":["SVM","K=1","K=3","K=5","MLP"]}}}},
{"data":{"name":"k1"},"mark":{"type":"point","filled":true,"size":140,"opacity":1},"encoding":{"color":{"datum":"K=1","type":"nominal","title":"Classifiers","scale":{"domain":["SVM","K=1","K=3","K=5","MLP"]}}}},
{"data":{"name":"k3"},"mark":{"type":"point","filled":true,"size":140,"opacity":1},"encoding":{"color":{"datum":"K=3","type":"nominal","title":"Classifiers","scale":{"domain":["SVM","K=1","K=3","K=5","MLP"]}}}},
{"data":{"name":"k5"},"mark":{"type":"point","filled":true,"size":140,"opacity":1},"encoding":{"color":{"datum":"K=5","type":"nominal","title":"Classifiers","scale":{"domain":["SVM","K=1","K=3","K=5","MLP"]}}}},
{"data":{"name":"mlp"},"mark":{"type":"point","filled":true,"size":140,"opacity":1},"encoding":{"color":{"datum":"MLP","type":"nominal","title":"Classifiers","scale":{"domain":["SVM","K=1","K=3","K=5","MLP"]}}}}
],
"resolve":{"legend":{"color":"shared"}}
}
